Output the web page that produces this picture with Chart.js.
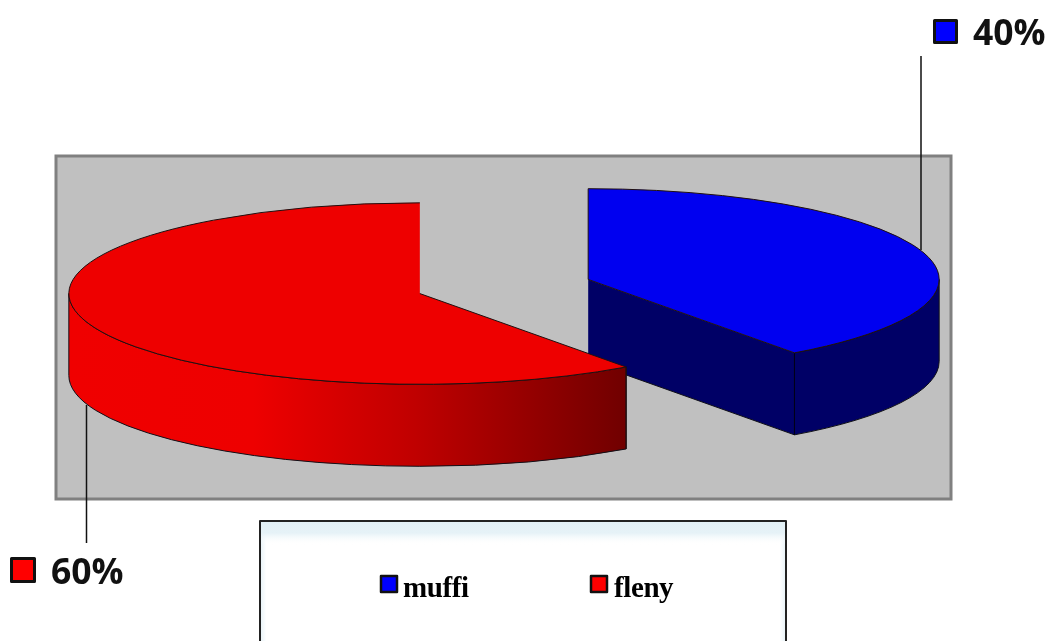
<!DOCTYPE html>
<html>
<head>
<meta charset="utf-8">
<style>html,body{margin:0;padding:0;background:#fff}#w{width:1050px;height:641px;position:relative}canvas{display:block}</style>
<script src="https://cdn.jsdelivr.net/npm/chart.js@4/dist/chart.umd.min.js"></script>
</head>
<body>
<div id="w"><canvas id="c" width="1050" height="641"></canvas></div>
<script>
const categories = ['muffi', 'fleny'];
const seriesValues = [40, 60];
const sliceColors = ['#0000f0', '#ee0000'];
const swatchColors = ['#0000ff', '#ff0000'];
const valueLabels = ['40%', '60%'];

const SQUASH = 0.2585, DEPTH = 82, EXPLODE = 88.5;

function ellipsePoint(cx, cy, r, a) {
  return [cx + Math.cos(a) * r, cy + Math.sin(a) * r * SQUASH];
}
function sliceGeom(el) {
  const mid = (el.startAngle + el.endAngle) / 2;
  return { cx: el.x + Math.cos(mid) * EXPLODE, cy: el.y + Math.sin(mid) * EXPLODE * SQUASH, r: el.outerRadius };
}
function drawWall(ctx, el, fill, includeSide) {
  const g = sliceGeom(el);
  const a0 = Math.max(el.startAngle, 0);
  const a1 = Math.min(el.endAngle, Math.PI);
  ctx.lineWidth = 1;
  ctx.strokeStyle = '#101018';
  ctx.fillStyle = fill;
  if (includeSide) {
    const e = ellipsePoint(g.cx, g.cy, g.r, el.endAngle);
    ctx.beginPath();
    ctx.moveTo(g.cx, g.cy);
    ctx.lineTo(e[0], e[1]);
    ctx.lineTo(e[0], e[1] + DEPTH);
    ctx.lineTo(g.cx, g.cy + DEPTH);
    ctx.closePath();
    ctx.fill();
    ctx.beginPath();
    ctx.moveTo(e[0], e[1] + DEPTH);
    ctx.lineTo(g.cx, g.cy + DEPTH);
    ctx.stroke();
  }
  const t = ellipsePoint(g.cx, g.cy, g.r, a1);
  ctx.beginPath();
  ctx.ellipse(g.cx, g.cy, g.r, g.r * SQUASH, 0, a0, a1);
  ctx.lineTo(t[0], t[1] + DEPTH);
  ctx.ellipse(g.cx, g.cy + DEPTH, g.r, g.r * SQUASH, 0, a1, a0, true);
  ctx.closePath();
  ctx.fill();
  ctx.stroke();
}

const scene = {
  id: 'scene',
  beforeDraw(chart) {
    const ctx = chart.ctx;
    ctx.save();
    ctx.fillStyle = '#c0c0c0';
    ctx.strokeStyle = '#808080';
    ctx.lineWidth = 3;
    ctx.fillRect(56, 156, 895, 343);
    ctx.strokeRect(56, 156, 895, 343);
    ctx.restore();
  },
  beforeDatasetsDraw(chart) {
    const ctx = chart.ctx;
    const meta = chart.getDatasetMeta(0);
    const blue = meta.data[0], red = meta.data[1];
    ctx.save();
    drawWall(ctx, blue, '#000066', true);
    const bg = sliceGeom(blue);
    const be = ellipsePoint(bg.cx, bg.cy, bg.r, blue.endAngle);
    ctx.strokeStyle = '#000018';
    ctx.lineWidth = 1;
    ctx.beginPath(); ctx.moveTo(be[0], be[1]); ctx.lineTo(be[0], be[1] + DEPTH); ctx.stroke();
    const rg = sliceGeom(red);
    const grad = ctx.createLinearGradient(rg.cx - rg.r, 0, rg.cx + rg.r * 0.59, 0);
    grad.addColorStop(0, '#f00000');
    grad.addColorStop(0.33, '#ee0000');
    grad.addColorStop(0.62, '#c00000');
    grad.addColorStop(1, '#700000');
    drawWall(ctx, red, grad, false);
    // the library's own arcs, each placed in the tilted plane
    meta.data.forEach((el) => {
      const g = sliceGeom(el);
      ctx.save();
      ctx.translate(g.cx, g.cy);
      ctx.scale(1, SQUASH);
      ctx.translate(-el.x, -el.y);
      el.draw(ctx);
      ctx.restore();
    });
    // thin outlines with constant line width
    meta.data.forEach((el, i) => {
      const g = sliceGeom(el);
      ctx.strokeStyle = '#201010';
      ctx.lineWidth = 1;
      ctx.beginPath();
      ctx.moveTo(g.cx, g.cy);
      ctx.ellipse(g.cx, g.cy, g.r, g.r * SQUASH, 0, el.startAngle, el.endAngle);
      if (i === 0) ctx.closePath();
      ctx.stroke();
      if (i === 1) {
        const e = ellipsePoint(g.cx, g.cy, g.r, el.startAngle);
        ctx.beginPath(); ctx.moveTo(e[0], e[1]); ctx.lineTo(e[0], e[1] + DEPTH); ctx.stroke();
      }
    });
    ctx.restore();
    return false;
  },
  afterDraw(chart) {
    const ctx = chart.ctx;
    ctx.save();
    ctx.strokeStyle = '#111';
    ctx.lineWidth = 1.5;
    ctx.beginPath();
    ctx.moveTo(921, 56); ctx.lineTo(921, 250);
    ctx.moveTo(86.5, 405); ctx.lineTo(86.5, 543);
    ctx.stroke();
    const swatch = (x, y, s, c, lw) => {
      ctx.fillStyle = c; ctx.strokeStyle = '#111'; ctx.lineWidth = lw;
      ctx.lineJoin = 'round';
      ctx.fillRect(x, y, s, s); ctx.strokeRect(x, y, s, s);
    };
    swatch(934.5, 20.5, 22, swatchColors[0], 3);
    swatch(11.5, 558.5, 23, swatchColors[1], 3);
    ctx.fillStyle = '#111';
    ctx.font = 'bold 35.5px "Open Sans"';
    ctx.textBaseline = 'alphabetic';
    ctx.textAlign = 'left';
    ctx.fillText(valueLabels[0], 973, 45);
    ctx.fillText(valueLabels[1], 51, 584);
    // legend box
    const lx = 260, ly = 521, lw = 526, lh = 130;
    ctx.fillStyle = '#ffffff';
    ctx.fillRect(lx, ly, lw, lh);
    const side = ctx.createLinearGradient(lx, 0, lx + lw, 0);
    side.addColorStop(0, '#e6f2f7');
    side.addColorStop(0.012, '#ffffff');
    side.addColorStop(0.988, '#ffffff');
    side.addColorStop(1, '#e6f2f7');
    ctx.fillStyle = side;
    ctx.fillRect(lx, ly, lw, lh);
    const glow = ctx.createLinearGradient(0, ly, 0, ly + 24);
    glow.addColorStop(0, 'rgba(226,240,246,1)');
    glow.addColorStop(0.5, 'rgba(230,242,247,1)');
    glow.addColorStop(1, 'rgba(255,255,255,0)');
    ctx.fillStyle = glow;
    ctx.fillRect(lx, ly, lw, 24);
    ctx.strokeStyle = '#222';
    ctx.lineWidth = 2;
    ctx.strokeRect(lx, ly, lw, lh);
    swatch(381, 576, 16, swatchColors[0], 2.5);
    swatch(591, 576, 16, swatchColors[1], 2.5);
    ctx.fillStyle = '#000';
    ctx.font = 'bold 29px "Liberation Serif"';
    ctx.letterSpacing = '-0.4px';
    ctx.fillText(categories[0], 403, 597);
    ctx.fillText(categories[1], 614, 597);
    ctx.restore();
  }
};

new Chart(document.getElementById('c'), {
  type: 'pie',
  plugins: [scene],
  data: {
    labels: categories,
    datasets: [{
      data: seriesValues,
      backgroundColor: sliceColors,
      borderWidth: 0,
      clip: false
    }]
  },
  options: {
    responsive: false,
    animation: false,
    radius: 351,
    layout: { padding: { right: 42, bottom: 68 } },
    plugins: { legend: { display: false }, tooltip: { enabled: false } }
  }
});
</script>
</body>
</html>
